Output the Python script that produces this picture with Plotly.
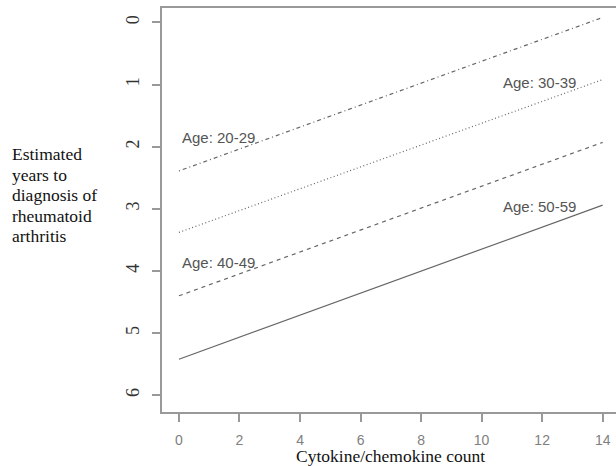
import plotly.graph_objects as go

# ---- data ----
x_count = [0, 14]
age_groups = ["Age: 20-29", "Age: 30-39", "Age: 40-49", "Age: 50-59"]
years_at_0 = [2.39, 3.38, 4.40, 5.42]
years_at_14 = [-0.08, 0.92, 1.93, 2.94]
label_x = [1.32, 11.91, 1.32, 11.91]
label_y = [1.86, 0.97, 3.87, 2.97]
x_ticks = [0, 2, 4, 6, 8, 10, 12, 14]
y_ticks = [0, 1, 2, 3, 4, 5, 6]
y_title_lines = ["Estimated", "years to", "diagnosis of", "rheumatoid", "arthritis"]
x_title = "Cytokine/chemokine count"

dashes = ["1px,3px,4px,3px", "1px,2.5px", "4px,4px", "solid"]

W, H = 616, 466
ML, MR, MT, MB = 162, 0, 8, 54

fig = go.Figure()
for name, y0, y1, d in zip(age_groups, years_at_0, years_at_14, dashes):
    fig.add_trace(go.Scatter(
        x=x_count, y=[y0, y1], mode="lines", name=name,
        line=dict(color="#666666", width=1.2, dash=d),
        showlegend=False, hoverinfo="skip"))

for t, lx, ly in zip(age_groups, label_x, label_y):
    fig.add_annotation(x=lx, y=ly, xref="x", yref="y", text=t, showarrow=False,
                       xanchor="center", yanchor="middle",
                       font=dict(family="Liberation Sans, Arial, sans-serif", size=15, color="#555555"))

plot_w = W - ML - MR
plot_h = H - MT - MB
for i, line in enumerate(y_title_lines):
    py = 154 + i * 20.5
    fig.add_annotation(x=(10 - ML) / plot_w, y=1 - (py - MT) / plot_h,
                       xref="paper", yref="paper", text=line, showarrow=False,
                       xanchor="left", yanchor="middle",
                       font=dict(family="Liberation Serif, Times New Roman, serif", size=17.5, color="#111111"))

fig.add_annotation(x=(390 - ML) / plot_w, y=1 - (456 - MT) / plot_h,
                   xref="paper", yref="paper", text=x_title, showarrow=False,
                   xanchor="center", yanchor="middle",
                   font=dict(family="Liberation Serif, Times New Roman, serif", size=17.5, color="#111111"))

fig.update_layout(
    width=W, height=H,
    margin=dict(l=ML, r=MR, t=MT, b=MB),
    paper_bgcolor="white", plot_bgcolor="white",
    xaxis=dict(range=[-0.56, 14.44], tickvals=x_ticks, ticks="outside", ticklen=8,
               tickcolor="#999999", tickwidth=1.5, showline=True, mirror=True,
               linecolor="#999999", linewidth=1.5, showgrid=False, zeroline=False,
               ticklabelstandoff=6,
               tickfont=dict(family="Liberation Sans, Arial, sans-serif", size=14, color="#808080")),
    yaxis=dict(range=[6.27, -0.232], tickvals=y_ticks, ticks="outside", ticklen=8,
               tickcolor="#999999", tickwidth=1.5, showline=True, mirror=False,
               linecolor="#999999", linewidth=1.5, showgrid=False, zeroline=False,
               tickangle=-90, ticklabelstandoff=6,
               tickfont=dict(family="Liberation Serif, Times New Roman, serif", size=18, color="#333333")),
)

fig.write_html("out.html", config={"displayModeBar": False},
               post_script="document.body.style.margin='0';document.body.style.overflow='hidden';")
